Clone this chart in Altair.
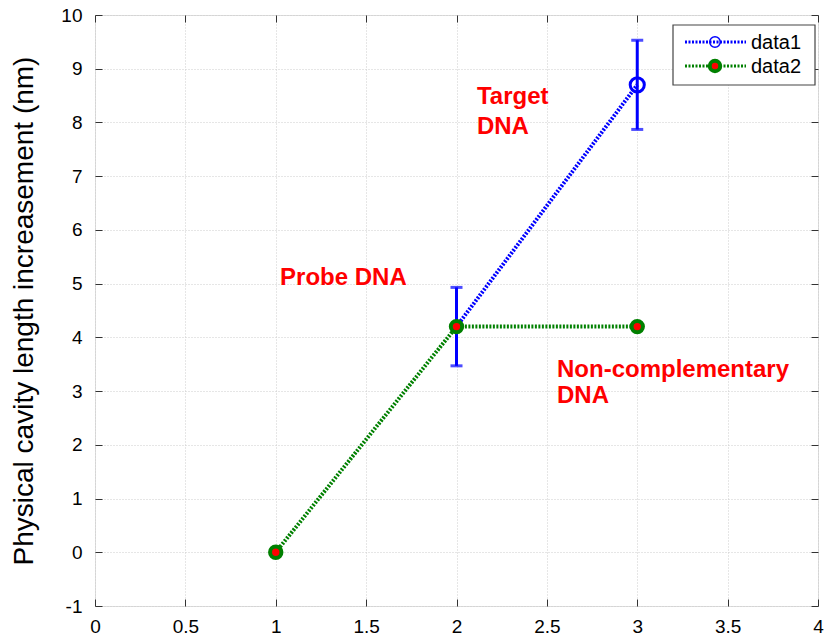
import altair as alt
import pandas as pd

# data
d1_x = [2, 3]
d1_y = [4.2, 8.7]
d1_lo = [3.47, 7.87]
d1_hi = [4.93, 9.53]
d2_x = [1, 2, 3]
d2_y = [0, 4.2, 4.2]
ann_text = ["Target", "DNA", "Probe DNA", "Non-complementary", "DNA"]
ann_x = [2.113, 2.113, 1.024, 2.556, 2.556]
ann_y = [8.34, 7.78, 4.97, 3.26, 2.77]
x_ticks = [0, 0.5, 1, 1.5, 2, 2.5, 3, 3.5, 4]
y_ticks = list(range(-1, 11))

FONT = "Liberation Sans"
W, H = 723, 591
BLUE = "#0000ff"
GREEN = "#008000"
RED = "#ff0000"

d1 = pd.DataFrame({"x": d1_x, "y": d1_y, "lo": d1_lo, "hi": d1_hi})
d2 = pd.DataFrame({"x": d2_x, "y": d2_y})
ann = pd.DataFrame({"x": ann_x, "y": ann_y, "t": ann_text})

xs = alt.Scale(domain=[0, 4], nice=False, zero=False)
ys = alt.Scale(domain=[-1, 10], nice=False, zero=False)

xaxis = alt.Axis(values=x_ticks, title=None, grid=True, gridDash=[1, 2], gridColor="#cccccc",
                 gridWidth=1, domain=False, tickColor="#333", tickSize=7, offset=-7,
                 labelPadding=11, labelFont=FONT, labelFontSize=19, labelColor="#000",
                 format="~g", labelFlush=False)
yaxis = alt.Axis(values=y_ticks, title="Physical cavity length increasement (nm)", grid=True,
                 gridDash=[1, 2], gridColor="#cccccc", gridWidth=1, domain=False,
                 tickColor="#333", tickSize=7, offset=-7, labelPadding=13, labelFont=FONT,
                 labelFontSize=19, labelColor="#000", titleFont=FONT, titleFontSize=28,
                 titleFontWeight="normal", titleColor="#000", titlePadding=22,
                 format="d", labelExpr="replace(datum.label, '\u2212', '-')")

Xn = alt.X("x:Q", scale=xs, axis=None)
Yn = alt.Y("y:Q", scale=ys, axis=None)

base = alt.Chart(d2).mark_point(opacity=0).encode(
    x=alt.X("x:Q", scale=xs, axis=xaxis), y=alt.Y("y:Q", scale=ys, axis=yaxis))

# top/right ticks (mirror axes, no labels)
mirror = alt.Chart(d2).mark_point(opacity=0).encode(
    x=alt.X("x:Q", scale=xs, axis=alt.Axis(orient="top", values=x_ticks, labels=False, title=None,
                                           grid=False, domain=False, tickColor="#333", tickSize=7,
                                           offset=-7)),
    y=alt.Y("y:Q", scale=ys, axis=alt.Axis(orient="right", values=y_ticks, labels=False, title=None,
                                           grid=False, domain=False, tickColor="#333", tickSize=7,
                                           offset=-7)))

line2 = alt.Chart(d2).mark_line(color=GREEN, strokeWidth=4, strokeDash=[2, 1.5]).encode(x=Xn, y=Yn)
line1 = alt.Chart(d1).mark_line(color=BLUE, strokeWidth=4, strokeDash=[2, 1.5]).encode(x=Xn, y=Yn)
err = alt.Chart(d1).mark_rule(color=BLUE, strokeWidth=3).encode(
    x=Xn, y=alt.Y("lo:Q", scale=ys, axis=None), y2="hi:Q")
cap_lo = alt.Chart(d1).mark_tick(color=BLUE, thickness=3, size=12, orient="horizontal").encode(
    x=Xn, y=alt.Y("lo:Q", scale=ys, axis=None))
cap_hi = alt.Chart(d1).mark_tick(color=BLUE, thickness=3, size=12, orient="horizontal").encode(
    x=Xn, y=alt.Y("hi:Q", scale=ys, axis=None))
pt2 = alt.Chart(d2).mark_point(shape="circle", filled=True, fill=RED, stroke=GREEN, strokeWidth=4,
                               size=130, opacity=1).encode(x=Xn, y=Yn)
pt1 = alt.Chart(d1).transform_filter("datum.x == 3").mark_point(
    shape="circle", filled=False, stroke=BLUE, strokeWidth=3, size=200, opacity=1).encode(x=Xn, y=Yn)

text = alt.Chart(ann).mark_text(align="left", baseline="alphabetic", font=FONT, fontSize=24,
                                fontWeight="bold", color=RED).encode(x=Xn, y=Yn, text="t:N")

# legend (decoration)
leg = pd.DataFrame({"k": [0]})
lb = alt.Chart(leg)
LX0, LX1, LY0, LY1 = 578, 720, 10, 70
box = lb.mark_rect(fill="white", stroke="#444", strokeWidth=1.2).encode(
    x=alt.value(LX0), x2=alt.value(LX1), y=alt.value(LY0), y2=alt.value(LY1))
l1 = lb.mark_rule(color=BLUE, strokeWidth=3, strokeDash=[2, 1.5]).encode(
    x=alt.value(590), x2=alt.value(651), y=alt.value(27))
l2 = lb.mark_rule(color=GREEN, strokeWidth=3, strokeDash=[2, 1.5]).encode(
    x=alt.value(590), x2=alt.value(651), y=alt.value(51))
m1 = lb.mark_point(shape="circle", filled=False, stroke=BLUE, strokeWidth=1.5, size=110, opacity=1).encode(
    x=alt.value(620), y=alt.value(27))
m2 = lb.mark_point(shape="circle", filled=True, fill=RED, stroke=GREEN, strokeWidth=4, size=110, opacity=1).encode(
    x=alt.value(620), y=alt.value(51))
t1 = lb.mark_text(align="left", baseline="middle", font=FONT, fontSize=20, color="#000", text="data1").encode(
    x=alt.value(656), y=alt.value(28))
t2 = lb.mark_text(align="left", baseline="middle", font=FONT, fontSize=20, color="#000", text="data2").encode(
    x=alt.value(656), y=alt.value(52))

chart = alt.layer(base, mirror, line2, line1, err, cap_lo, cap_hi, pt2, pt1, text,
                  box, l1, l2, m1, m2, t1, t2).resolve_axis(x="independent", y="independent").properties(
    width=W, height=H,
    autosize=alt.AutoSizeParams(type="none"),
    padding={"left": 95, "top": 15, "right": 7, "bottom": 29},
).configure_view(stroke="#333", strokeWidth=1.2).configure(background="white")

chart.save("out.html", embed_options={"renderer": "svg", "actions": False})
